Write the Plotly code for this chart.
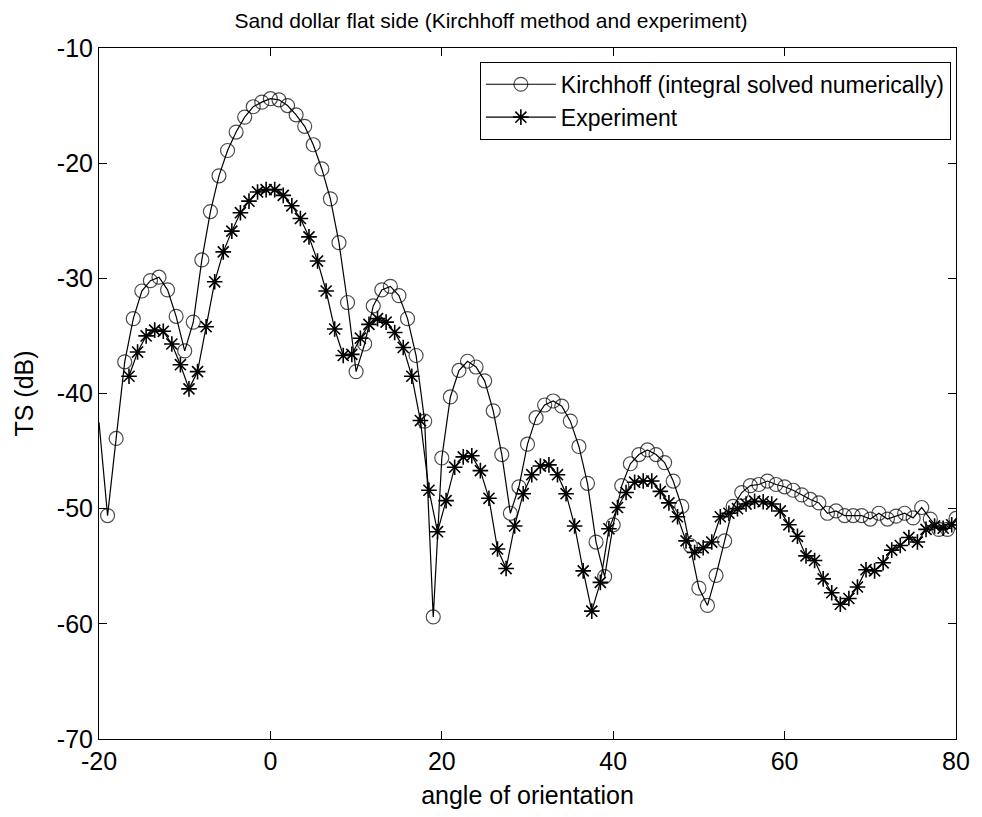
import plotly.graph_objects as go

# Kirchhoff model, sampled every 1 degree
kirch_angle = list(range(-20, 81))
kirch_ts = [
    -42.5, -50.6, -43.9, -37.25, -33.5, -31.1, -30.2, -29.9, -31.0, -33.3,
    -36.3, -33.8, -28.4, -24.2, -21.1, -18.9, -17.3, -16.0, -15.1, -14.7,
    -14.4, -14.5, -15.0, -15.8, -16.8, -18.4, -20.5, -23.1, -26.9, -32.1,
    -38.1, -35.7, -32.4, -31.0, -30.7, -31.5, -33.5, -36.7, -42.4, -59.4,
    -45.6, -40.3, -38.0, -37.2, -37.7, -38.9, -41.5, -45.3, -50.4, -48.1,
    -44.4, -42.1, -41.0, -40.65, -41.1, -42.4, -44.6, -47.8, -52.9, -55.9,
    -51.4, -48.0, -46.1, -45.3, -44.9, -45.3, -46.0, -47.6, -49.8, -53.2,
    -56.9, -58.4, -55.8, -52.8, -49.8, -48.6, -48.0, -47.9, -47.6, -47.9,
    -48.1, -48.4, -48.8, -49.2, -49.5, -50.4, -50.2, -50.6, -50.6, -50.6,
    -50.9, -50.4, -50.9, -50.65, -50.4, -50.8, -49.9, -50.9, -51.8, -51.8,
    -50.85,
]

# Measured target strength, sampled at half-degree offsets
exp_angle = [a + 0.5 for a in range(-17, 80)]
exp_ts = [
    -38.5, -36.4, -35.0, -34.5, -34.6, -35.7, -37.5, -39.6, -38.1, -34.2,
    -30.3, -27.7, -25.9, -24.3, -23.3, -22.5, -22.3, -22.3, -22.8, -23.7,
    -24.8, -26.4, -28.5, -31.1, -34.4, -36.7, -36.6, -35.2, -34.0, -33.5,
    -33.8, -34.7, -36.0, -38.5, -42.35, -48.4, -52.0, -49.3, -46.4, -45.5,
    -45.4, -46.7, -49.1, -53.5, -55.2, -51.5, -48.7, -47.05, -46.3, -46.2,
    -47.05, -48.7, -51.5, -55.4, -58.9, -56.4, -51.75, -49.9, -48.6, -47.7,
    -47.6, -47.6, -48.5, -49.5, -50.7, -52.8, -53.8, -53.4, -52.9, -50.7,
    -50.4, -50.0, -49.6, -49.35, -49.4, -49.6, -50.2, -51.4, -52.4, -54.1,
    -54.5, -56.1, -57.3, -58.3, -57.8, -56.8, -55.3, -55.4, -54.7, -53.6,
    -53.2, -52.5, -52.9, -51.8, -51.5, -51.7, -51.4,
]

x_ticks = [-20, 0, 20, 40, 60, 80]
x_tick_text = ["-20", "0", "20", "40", "60", "80"]
y_ticks = [-70, -60, -50, -40, -30, -20, -10]
y_tick_text = ["-70", "-60", "-50", "-40", "-30", "-20", "-10"]

FONT = "Liberation Sans, Arial, sans-serif"

# the first model sample sits on the left axis edge: draw its line, not its marker
kirch_sizes = [0] + [14] * (len(kirch_angle) - 1)

fig = go.Figure()
fig.add_trace(go.Scatter(
    x=kirch_angle, y=kirch_ts, mode="lines+markers",
    name="Kirchhoff (integral solved numerically)",
    line=dict(color="black", width=1.2),
    marker=dict(symbol="circle-open", size=kirch_sizes, color="black",
                line=dict(width=1.2, color="black")),
))
fig.add_trace(go.Scatter(
    x=exp_angle, y=exp_ts, mode="lines+markers",
    name="Experiment",
    line=dict(color="black", width=1.2),
    marker=dict(symbol="asterisk-open", size=13, color="black",
                line=dict(width=1.6, color="black")),
))

axis_common = dict(
    showgrid=False, zeroline=False, showline=True, linecolor="black",
    linewidth=1, mirror="allticks", ticks="inside", ticklen=8,
    tickcolor="black", tickwidth=1,
    tickfont=dict(family=FONT, size=25, color="black"),
)

fig.update_layout(
    width=982, height=817,
    margin=dict(l=99, r=18, t=48, b=75),
    paper_bgcolor="white", plot_bgcolor="white",
    title=dict(text="Sand dollar flat side (Kirchhoff method and experiment)",
               x=0.5, xanchor="center", y=0.975, yanchor="middle",
               font=dict(family=FONT, size=21, color="black")),
    xaxis=dict(range=[-20, 80], tickvals=x_ticks, ticktext=x_tick_text,
               title=dict(text="angle of orientation", standoff=12,
                          font=dict(family=FONT, size=25, color="black")),
               **axis_common),
    yaxis=dict(range=[-70, -10], tickvals=y_ticks, ticktext=y_tick_text,
               title=dict(text="TS (dB)", standoff=16,
                          font=dict(family=FONT, size=25, color="black")),
               **axis_common),
    legend=dict(x=0.994, y=0.98, xanchor="right", yanchor="top",
                bgcolor="white", bordercolor="black", borderwidth=1,
                font=dict(family=FONT, size=23, color="black"),
                tracegroupgap=0, itemwidth=70),
    showlegend=True,
)

fig.write_html("out.html")
